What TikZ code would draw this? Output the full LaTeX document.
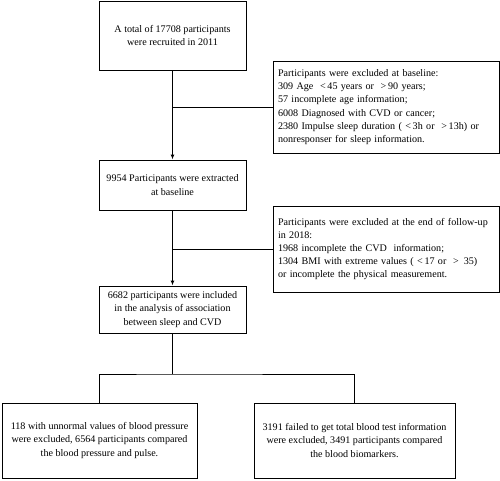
\documentclass[tikz,border=0pt]{standalone}
\usepackage{fontspec}
\setmainfont{Liberation Serif}
\usetikzlibrary{arrows.meta}
\begin{document}
\begin{tikzpicture}[x=1pt,y=-1pt,
  box/.style={draw,line width=1pt,inner sep=0pt,font=\fontsize{10.1}{13.2}\selectfont,align=center},
  excl/.style={draw,line width=1pt,inner sep=0pt,font=\fontsize{10.1}{13.2}\selectfont,align=left},
  conn/.style={line width=1pt},
  arr/.style={line width=1pt,-{Latex[length=5pt,width=4pt]}}]
\useasboundingbox (0,0) rectangle (500,480);
\node[box,minimum width=147pt,minimum height=69pt] (b1) at (172.5,35.5) {A total of 17708 participants\\were recruited in 2011};
\node[excl,minimum width=226pt,minimum height=92pt,text width=216pt] (e1) at (386,107) {Participants were excluded at baseline:\\309 Age \ <\,45 years or \ >\,90 years;\\57 incomplete age information;\\6008 Diagnosed with CVD or cancer;\\2380 Impulse sleep duration ( <\,3h or \ >\,13h) or\\nonresponser for sleep information.};
\node[box,minimum width=147pt,minimum height=50pt] (b2) at (172.5,185) {9954 Participants were extracted\\at baseline};
\node[excl,minimum width=226pt,minimum height=86pt,text width=216pt] (e2) at (386,249) {Participants were excluded at the end of follow-up\\in 2018:\\1968 incomplete the CVD\ \ information;\\1304 BMI with extreme values ( <\,17 or \ >\ \,35)\\or incomplete the physical measurement.};
\node[box,minimum width=147pt,minimum height=47pt] (b3) at (172.5,309.5) {6682 participants were included\\in the analysis of association\\between sleep and CVD};
\node[box,minimum width=195pt,minimum height=75pt] (b4) at (99.5,440.5) {118 with unnormal values of blood pressure\\were excluded, 6564 participants compared\\the blood pressure and pulse.};
\node[box,minimum width=201pt,minimum height=75pt] (b5) at (354.5,440.5) {3191 failed to get total blood test information\\were excluded, 3491 participants compared\\the blood biomarkers.};
\draw[arr] (b1.south) -- (b2.north);
\draw[conn] (b1.south |- e1.west) -- (e1.west);
\draw[arr] (b2.south) -- (b3.north);
\draw[conn] (b2.south |- e2.west) -- (e2.west);
\coordinate (split) at (172.5,374);
\draw[conn] (b3.south) -- (split);
\draw[conn] (b4.north) |- (split) -| (b5.north);
\end{tikzpicture}
\end{document}
